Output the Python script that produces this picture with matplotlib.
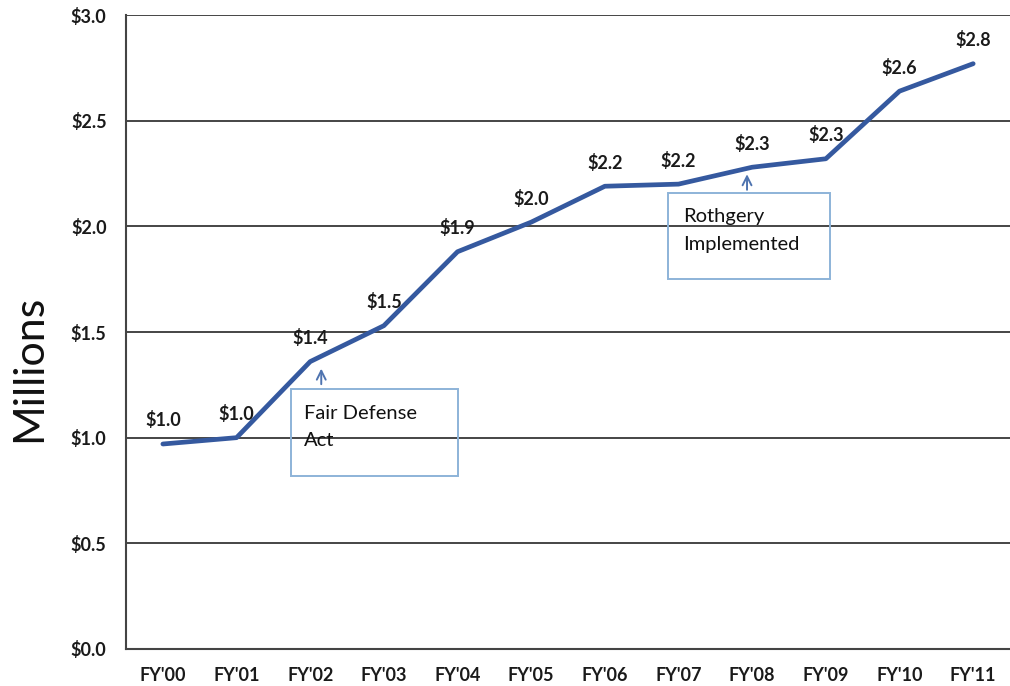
import matplotlib
matplotlib.use("Agg")
import matplotlib.pyplot as plt

years = ["FY'00", "FY'01", "FY'02", "FY'03", "FY'04", "FY'05",
         "FY'06", "FY'07", "FY'08", "FY'09", "FY'10", "FY'11"]
spending = [0.97, 1.00, 1.36, 1.53, 1.88, 2.02, 2.19, 2.20, 2.28, 2.32, 2.64, 2.77]
value_labels = ["$1.0", "$1.0", "$1.4", "$1.5", "$1.9", "$2.0",
                "$2.2", "$2.2", "$2.3", "$2.3", "$2.6", "$2.8"]
y_ticks = [0.0, 0.5, 1.0, 1.5, 2.0, 2.5, 3.0]
y_tick_labels = ["$0.0", "$0.5", "$1.0", "$1.5", "$2.0", "$2.5", "$3.0"]

events = [
    {"text": "Fair Defense\nAct", "index": 2},
    {"text": "Rothgery\nImplemented", "index": 8},
]

plt.rcParams['font.family'] = ['Lato', 'DejaVu Sans']

fig = plt.figure(figsize=(10.10, 6.86), dpi=100)
ax = fig.add_axes([0.1248, 0.054, 0.8752, 0.924])

x = list(range(len(years)))
line_color = "#35599f"
ax.plot(x, spending, color=line_color, lw=3.4, solid_capstyle="round", zorder=3)

for xi, yi, lab in zip(x, spending, value_labels):
    ax.annotate(lab, (xi, yi), xytext=(0, 17), textcoords="offset points",
                ha="center", va="center", fontsize=13, fontweight="bold",
                color="#1a1a1a", zorder=4)

ax.set_xlim(-0.5, 11.5)
ax.set_ylim(0, 3.0)
ax.set_yticks(y_ticks)
ax.set_yticklabels(y_tick_labels)
ax.set_xticks(x)
ax.set_xticklabels(years)
ax.tick_params(axis="both", length=0, labelsize=13, colors="#1a1a1a")
ax.tick_params(axis="y", pad=14)
ax.tick_params(axis="x", pad=13)
for t in ax.get_xticklabels() + ax.get_yticklabels():
    t.set_fontweight("bold")

ax.yaxis.grid(True, color="#454545", lw=1.4)
ax.set_axisbelow(True)
for side in ["top", "right"]:
    ax.spines[side].set_visible(False)
ax.spines["left"].set_color("#444444")
ax.spines["left"].set_linewidth(1.5)
ax.spines["bottom"].set_color("#444444")
ax.spines["bottom"].set_linewidth(1.5)

ax.set_ylabel("Millions", fontsize=31, color="#111111")
ax.yaxis.set_label_coords(-0.088, 0.443)

box_color = "#8db3d8"
arrow_color = "#4f74b0"
# Fair Defense Act callout
fd = events[0]
fdx = fd["index"]
ax.annotate("", xy=(fdx + 0.15, spending[fdx] - 0.02), xytext=(fdx + 0.15, 1.24),
            arrowprops=dict(arrowstyle="->", color=arrow_color, lw=1.4,
                            mutation_scale=16), zorder=4)
ax.add_patch(plt.Rectangle((1.74, 0.82), 2.27, 0.41, fill=False,
                           edgecolor=box_color, lw=1.4, zorder=4))
ax.text(1.92, 1.155, fd["text"], fontsize=14.5, va="top", ha="left",
        color="#111111", linespacing=1.75, zorder=5)

# Rothgery callout
rg = events[1]
rgx = rg["index"]
ax.annotate("", xy=(rgx - 0.07, spending[rgx] - 0.02), xytext=(rgx - 0.07, 2.16),
            arrowprops=dict(arrowstyle="->", color=arrow_color, lw=1.4,
                            mutation_scale=16), zorder=4)
ax.add_patch(plt.Rectangle((6.86, 1.75), 2.19, 0.41, fill=False,
                           edgecolor=box_color, lw=1.4, zorder=4))
ax.text(7.06, 2.085, rg["text"], fontsize=14.5, va="top", ha="left",
        color="#111111", linespacing=1.75, zorder=5)

fig.savefig("out.png", dpi=100, facecolor="white")
